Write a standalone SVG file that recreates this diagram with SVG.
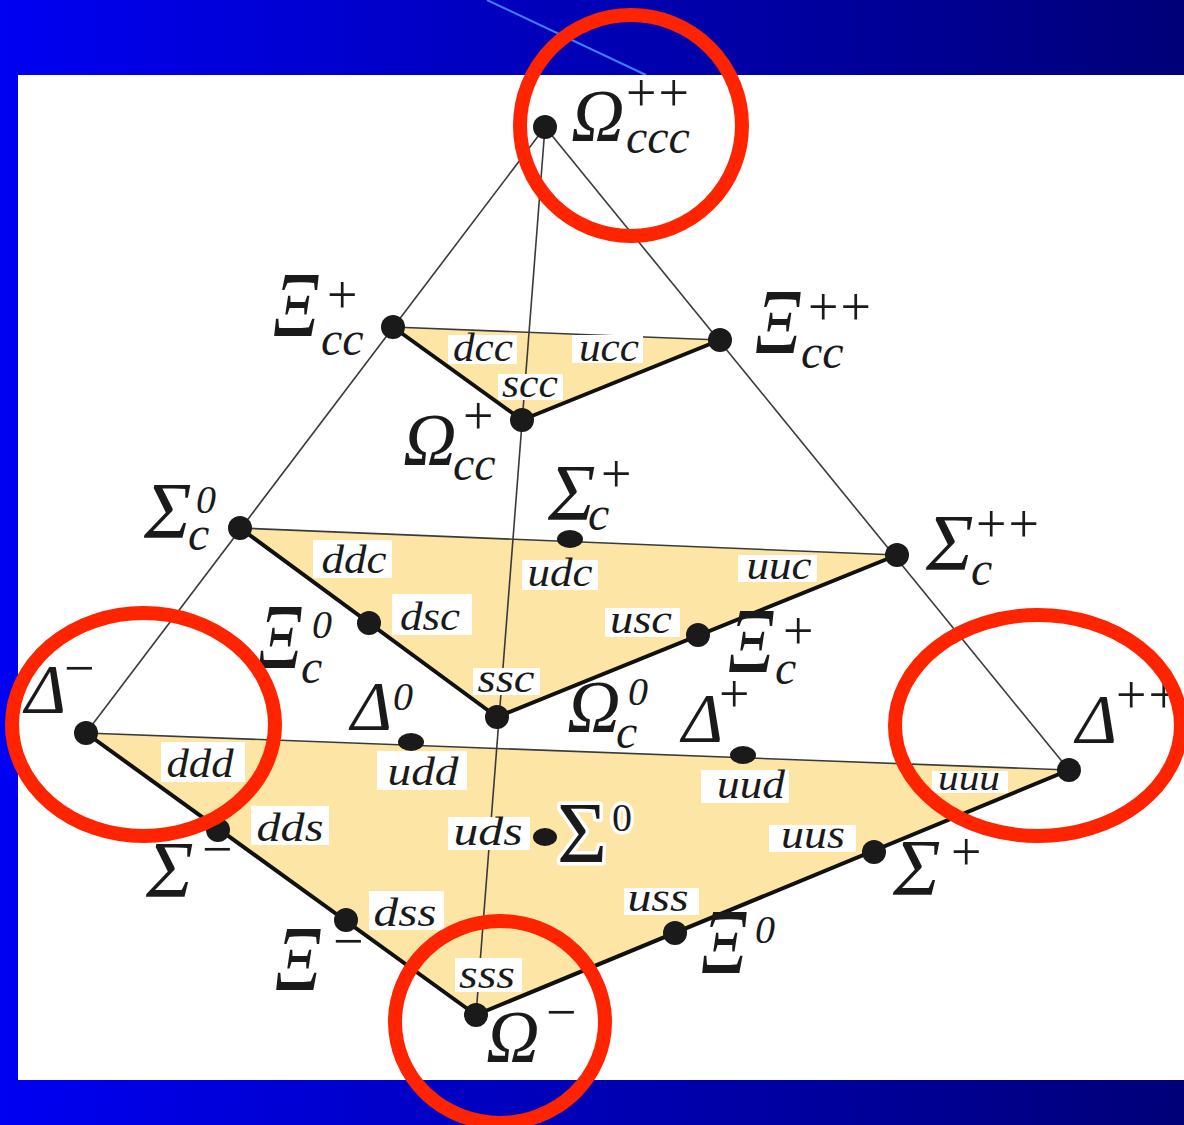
<svg xmlns="http://www.w3.org/2000/svg" width="1184" height="1125" viewBox="0 0 1184 1125">
<defs>
<linearGradient id="bg" x1="0" y1="0" x2="1" y2="0">
<stop offset="0" stop-color="#0000f2"/>
<stop offset="1" stop-color="#000078"/>
</linearGradient>
<style>
.face{fill:#fde5a6;stroke:none}
.thin{stroke:#3a3a3a;stroke-width:1.6;fill:none}
.thick{stroke:#111;stroke-width:4;fill:none;stroke-linejoin:round}
.dot{fill:#1a1a1a}
.box{fill:#fff}
.q{font-family:"Liberation Serif",serif;font-style:italic;font-size:39px;fill:#1a1a1a;text-anchor:middle}
.g{font-family:"Liberation Serif",serif;font-style:italic;font-size:72px;fill:#1a1a1a}
.om{font-size:74px}
.de{font-size:70px}
.si{font-size:80px}
.xi{font-size:94px}
.s{font-family:"Liberation Serif",serif;font-style:italic;font-size:48px;fill:#1a1a1a}
.p{font-family:"Liberation Serif",serif;font-style:normal;font-size:54px;fill:#1a1a1a}
.pp{letter-spacing:2px}
.z{font-family:"Liberation Serif",serif;font-style:italic;font-size:40px;fill:#1a1a1a}
.u{font-style:normal}
.halo{stroke:#fff;stroke-width:7;paint-order:stroke;stroke-linejoin:round}
.ring{fill:none;stroke:#ff2400;stroke-width:14}
</style>
</defs>
<rect x="0" y="0" width="1184" height="1125" fill="url(#bg)"/>
<line x1="487" y1="0" x2="646" y2="75" stroke="#3d80ff" stroke-width="2"/>
<rect x="18" y="75" width="1166" height="1005" fill="#fff"/>

<g id="faces">
<polygon class="face" points="393,327 720,340 522,420"/>
<polygon class="face" points="240,528 897,555 497,717"/>
<polygon class="face" points="86,733 1069,770 476,1015"/>
</g>

<g id="connectors">
<line class="thin" x1="545" y1="127" x2="86" y2="733"/>
<line class="thin" x1="545" y1="127" x2="1069" y2="770"/>
<line class="thin" x1="545" y1="127" x2="476" y2="1015"/>
<line class="thin" x1="393" y1="327" x2="720" y2="340"/>
<line class="thin" x1="240" y1="528" x2="897" y2="555"/>
<line class="thin" x1="86" y1="733" x2="1069" y2="770"/>
<polyline class="thick" points="393,327 522,420 720,340"/>
<polyline class="thick" points="240,528 497,717 897,555"/>
<polyline class="thick" points="86,733 476,1015 1069,770"/>
</g>

<g id="quark-labels">
<rect class="box" x="448" y="335" width="69" height="29"/><text class="q" x="483" y="361" textLength="60" lengthAdjust="spacingAndGlyphs">dcc</text>
<rect class="box" x="572" y="335" width="71" height="28"/><text class="q" x="609" y="361" textLength="60" lengthAdjust="spacingAndGlyphs">ucc</text>
<rect class="box" x="498" y="374" width="65" height="26"/><text class="q" x="530" y="397" textLength="56" lengthAdjust="spacingAndGlyphs">scc</text>
<rect class="box" x="313" y="540" width="79" height="38"/><text class="q" x="354" y="573" textLength="65" lengthAdjust="spacingAndGlyphs">ddc</text>
<rect class="box" x="392" y="594" width="80" height="41"/><text class="q" x="430" y="630" textLength="60" lengthAdjust="spacingAndGlyphs">dsc</text>
<rect class="box" x="473" y="668" width="67" height="27"/><text class="q" x="506" y="692" textLength="57" lengthAdjust="spacingAndGlyphs">ssc</text>
<rect class="box" x="522" y="560" width="76" height="30"/><text class="q" x="560" y="586" textLength="65" lengthAdjust="spacingAndGlyphs">udc</text>
<rect class="box" x="738" y="555" width="79" height="27"/><text class="q" x="779" y="579" textLength="65" lengthAdjust="spacingAndGlyphs">uuc</text>
<rect class="box" x="605" y="608" width="75" height="29"/><text class="q" x="641" y="633" textLength="62" lengthAdjust="spacingAndGlyphs">usc</text>
<rect class="box" x="161" y="742" width="84" height="40"/><text class="q" x="200" y="777" textLength="67" lengthAdjust="spacingAndGlyphs">ddd</text>
<rect class="box" x="377" y="751" width="90" height="39"/><text class="q" x="423" y="785" textLength="71" lengthAdjust="spacingAndGlyphs">udd</text>
<rect class="box" x="251" y="806" width="78" height="39"/><text class="q" x="290" y="841" textLength="67" lengthAdjust="spacingAndGlyphs">dds</text>
<rect class="box" x="448" y="817" width="82" height="33"/><text class="q" x="488" y="845" textLength="69" lengthAdjust="spacingAndGlyphs">uds</text>
<rect class="box" x="369" y="891" width="75" height="39"/><text class="q" x="405" y="926" textLength="63" lengthAdjust="spacingAndGlyphs">dss</text>
<rect class="box" x="455" y="958" width="67" height="34"/><text class="q" x="487" y="988" textLength="56" lengthAdjust="spacingAndGlyphs">sss</text>
<rect class="box" x="701" y="770" width="88" height="33"/><text class="q" x="751" y="798" textLength="68" lengthAdjust="spacingAndGlyphs">uud</text>
<rect class="box" x="932" y="771" width="76" height="22"/><text class="q" x="969" y="790" textLength="62" lengthAdjust="spacingAndGlyphs" style="font-size:36px">uuu</text>
<rect class="box" x="769" y="825" width="87" height="27"/><text class="q" x="813" y="848" textLength="64" lengthAdjust="spacingAndGlyphs">uus</text>
<rect class="box" x="624" y="888" width="75" height="27"/><text class="q" x="658" y="911" textLength="61" lengthAdjust="spacingAndGlyphs">uss</text>
</g>

<g id="n-Omega-ccc"><circle class="dot" cx="545" cy="127" r="12"/><text class="g om" x="571" y="141">Ω</text><text class="s" x="626" y="153">ccc</text><text class="p pp" x="626" y="111">++</text></g>
<g id="n-Xi-cc-plus"><circle class="dot" cx="393" cy="327" r="12"/><text class="g xi" x="273" y="336" textLength="46" lengthAdjust="spacingAndGlyphs">Ξ</text><text class="s" x="321" y="355">cc</text><text class="p" x="327" y="313">+</text></g>
<g id="n-Xi-cc-pp"><circle class="dot" cx="720" cy="340" r="12"/><text class="g xi" x="755" y="353" textLength="46" lengthAdjust="spacingAndGlyphs">Ξ</text><text class="s" x="801" y="368">cc</text><text class="p pp" x="808" y="325">++</text></g>
<g id="n-Omega-cc"><circle class="dot" cx="522" cy="420" r="12"/><text class="g om" x="403" y="465">Ω</text><text class="s" x="453" y="480">cc</text><text class="p" x="463" y="434">+</text></g>
<g id="n-Sigma-c0"><circle class="dot" cx="240" cy="528" r="12"/><text class="g si" x="144" y="538">Σ</text><text class="s" x="188" y="550">c</text><text class="z" x="196" y="513">0</text></g>
<g id="n-Sigma-c-plus"><ellipse class="dot" cx="570" cy="539" rx="13" ry="9"/><text class="g si" x="548" y="520">Σ</text><text class="s" x="588" y="530">c</text><text class="p" x="601" y="492">+</text></g>
<g id="n-Sigma-c-pp"><circle class="dot" cx="897" cy="555" r="12"/><text class="g si" x="926" y="570">Σ</text><text class="s" x="971" y="585">c</text><text class="p pp" x="976" y="542">++</text></g>
<g id="n-Xi-c0"><circle class="dot" cx="369" cy="623" r="12"/><text class="g xi" x="258" y="668" textLength="44" lengthAdjust="spacingAndGlyphs">Ξ</text><text class="s" x="301" y="683">c</text><text class="z" x="312" y="638">0</text></g>
<g id="n-Xi-c-plus"><circle class="dot" cx="698" cy="635" r="12"/><text class="g xi" x="728" y="672" textLength="46" lengthAdjust="spacingAndGlyphs">Ξ</text><text class="s" x="775" y="684">c</text><text class="p" x="783" y="649">+</text></g>
<g id="n-Omega-c0"><circle class="dot" cx="497" cy="717" r="12"/><text class="g om" x="567" y="732">Ω</text><text class="s" x="616" y="748">c</text><text class="z" x="628" y="705">0</text></g>
<g id="n-Delta-minus"><circle class="dot" cx="86" cy="733" r="12"/><text class="g de" x="25" y="713">Δ</text><text class="p" x="64" y="686">−</text></g>
<g id="n-Delta-0"><ellipse class="dot" cx="411" cy="742" rx="13" ry="9"/><text class="g de" x="351" y="730">Δ</text><text class="z" x="393" y="710">0</text></g>
<g id="n-Delta-plus"><ellipse class="dot" cx="743" cy="755" rx="13" ry="9"/><text class="g de" x="682" y="742">Δ</text><text class="p" x="719" y="712">+</text></g>
<g id="n-Delta-pp"><circle class="dot" cx="1069" cy="770" r="12"/><text class="g de" x="1076" y="743">Δ</text><text class="p pp" x="1116" y="713">++</text></g>
<g id="n-Sigma-minus"><circle class="dot" cx="218" cy="830" r="12"/><text class="g si" x="146" y="897">Σ</text><text class="p" x="202" y="867">−</text></g>
<g id="n-Sigma-0"><ellipse class="dot" cx="545" cy="837" rx="12" ry="9"/><text class="g u halo" x="557" y="862" style="font-size:86px">Σ</text><text class="z u halo" x="612" y="831">0</text></g>
<g id="n-Sigma-plus"><circle class="dot" cx="874" cy="852" r="12"/><text class="g si" x="893" y="895">Σ</text><text class="p" x="951" y="870">+</text></g>
<g id="n-Xi-minus"><circle class="dot" cx="346" cy="920" r="12"/><text class="g xi" x="275" y="990" textLength="46" lengthAdjust="spacingAndGlyphs">Ξ</text><text class="p" x="333" y="959">−</text></g>
<g id="n-Xi-0"><circle class="dot" cx="675" cy="933" r="12"/><text class="g xi" x="701" y="973" textLength="46" lengthAdjust="spacingAndGlyphs">Ξ</text><text class="z" x="755" y="943">0</text></g>
<g id="n-Omega-minus"><circle class="dot" cx="476" cy="1015" r="12"/><text class="g om" x="486" y="1062">Ω</text><text class="p" x="546" y="1030">−</text></g>

<g id="highlights">
<ellipse class="ring" cx="631" cy="125.5" rx="111" ry="110.5"/>
<ellipse class="ring" cx="143.5" cy="724.5" rx="131.5" ry="111.5"/>
<ellipse class="ring" cx="1038" cy="725.5" rx="143" ry="110.5"/>
<ellipse class="ring" cx="500" cy="1022" rx="105" ry="101"/>
</g>
</svg>
